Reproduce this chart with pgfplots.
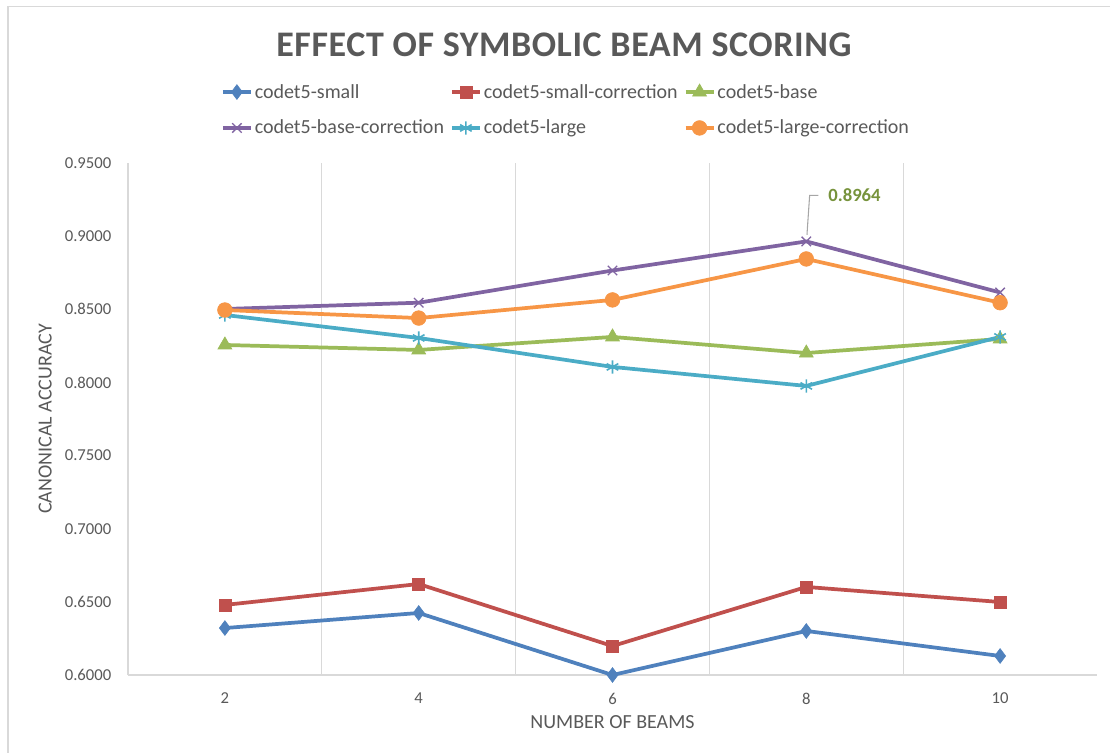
\documentclass[border=0pt]{standalone}
\usepackage{pgfplots}
\pgfplotsset{compat=1.18}
\usepackage{fontspec}
\setmainfont{Carlito}
\newfontfamily\titlefont[LetterSpace=1.6]{Carlito}
\definecolor{cblue}{HTML}{4F81BD}
\definecolor{cred}{HTML}{C0504D}
\definecolor{cgreen}{HTML}{9BBB59}
\definecolor{cpurple}{HTML}{8064A2}
\definecolor{ccyan}{HTML}{4BACC6}
\definecolor{corange}{HTML}{F79646}
\definecolor{txt}{HTML}{595959}
\definecolor{grid}{HTML}{D9D9D9}
\definecolor{lbl}{HTML}{77933C}
\begin{document}
\begin{tikzpicture}
\useasboundingbox (0,0) rectangle (832.5pt,564.75pt);
\draw[grid, line width=1pt] (6pt,0pt) |- (832.5pt,559.9pt);
\node[text=txt, font=\titlefont\fontsize{27}{30}\selectfont\bfseries] at (423pt,531pt) {EFFECT OF SYMBOLIC BEAM SCORING};
\begin{axis}[
  at={(96pt,58.5pt)}, anchor=south west,
  scale only axis, width=726.75pt, height=384pt,
  xmin=0.5, xmax=5.5, ymin=0.6, ymax=0.95,
  xtick={1,2,3,4,5}, xticklabels={2,4,6,8,10},
  ytick={0.6,0.65,0.7,0.75,0.8,0.85,0.9,0.95},
  yticklabel style={/pgf/number format/fixed, /pgf/number format/fixed zerofill, /pgf/number format/precision=4, /pgf/number format/assume math mode=true, xshift=-9pt},
  tick label style={text=txt, font=\fontsize{12.5}{15}\selectfont},
  major tick length=0pt,
  axis x line*=bottom, axis y line*=left,
  x axis line style={grid, line width=1pt, -},
  y axis line style={grid, line width=0.8pt, -},
  extra x ticks={1.5,2.5,3.5,4.5}, extra x tick labels={},
  extra x tick style={grid=major, major grid style={grid, line width=0.8pt}},
  xlabel={NUMBER OF BEAMS}, ylabel={CANONICAL ACCURACY},
  label style={text=txt, font=\fontsize{15}{17}\selectfont},
  xlabel style={at={(axis description cs:0.5,0)}, anchor=center, yshift=-35pt},
  ylabel style={at={(axis description cs:0,0.5)}, anchor=center, yshift=62pt},
  xticklabel style={yshift=-10pt},
  legend columns=3,
  legend cell align=left,
  legend style={at={(0.452,1.1035)}, anchor=center, draw=none, fill=none,
    font=\fontsize{15}{18}\selectfont, text=txt,
    nodes={inner xsep=1.5pt},
    /tikz/every even column/.append style={column sep=3pt}, row sep=11pt},
  legend image code/.code={\draw[#1] (0pt,0pt) -- (21pt,0pt); \draw[#1, only marks] plot coordinates {(10.5pt,0pt)};},
  every axis plot/.append style={line width=2.8pt},
  clip=false,
]
\addplot[cblue, mark=diamond*, mark size=5.5pt, mark options={solid, line width=0.5pt}] coordinates {(1,0.6321) (2,0.6424) (3,0.6000) (4,0.6301) (5,0.6130)};
\addlegendentry{codet5-small}
\addplot[cred, mark=square*, mark size=4.5pt, mark options={solid, line width=0.5pt}] coordinates {(1,0.6479) (2,0.6622) (3,0.6198) (4,0.6602) (5,0.6499)};
\addlegendentry{codet5-small-correction}
\addplot[cgreen, mark=triangle*, mark size=6pt, mark options={solid, line width=0.5pt}] coordinates {(1,0.8256) (2,0.8222) (3,0.8311) (4,0.8201) (5,0.8297)};
\addlegendentry{codet5-base}
\addplot[cpurple, mark=x, mark size=5pt, mark options={solid, line width=1pt}] coordinates {(1,0.8502) (2,0.8545) (3,0.8765) (4,0.8964) (5,0.8615)};
\addlegendentry{codet5-base-correction}
\addplot[ccyan, mark=asterisk, mark size=5pt, mark options={solid, line width=1.2pt}] coordinates {(1,0.8461) (2,0.8304) (3,0.8106) (4,0.7976) (5,0.8311)};
\addlegendentry{codet5-large}
\addplot[corange, mark=*, mark size=5.5pt, mark options={solid, line width=0.5pt}] coordinates {(1,0.8495) (2,0.8440) (3,0.8564) (4,0.8844) (5,0.8545)};
\addlegendentry{codet5-large-correction}
\draw[gray!70, line width=0.8pt] (axis cs:4,0.8964) ++(0.5pt,5pt) -- ++(2pt,29.5pt) -- ++(6.5pt,0pt);
\node[anchor=west, text=lbl, font=\fontsize{14}{16}\selectfont\bfseries, xshift=13pt, yshift=34.5pt] at (axis cs:4,0.8964) {0.8964};
\end{axis}
\end{tikzpicture}
\end{document}
